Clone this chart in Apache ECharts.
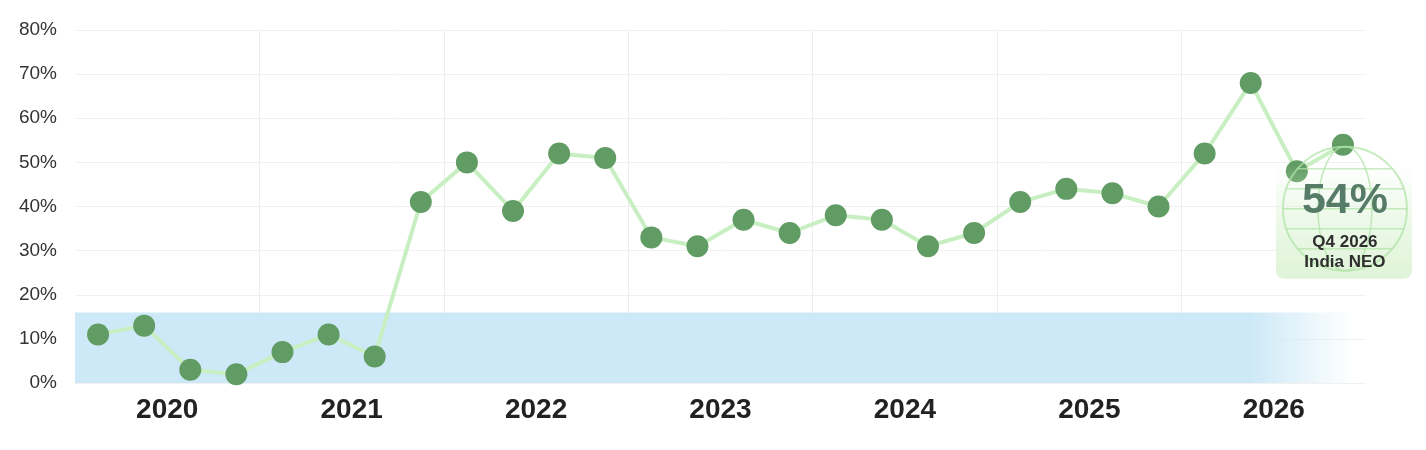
<!DOCTYPE html>
<html>
<head>
<meta charset="utf-8">
<style>
  html, body { margin: 0; padding: 0; background: #fff; }
  #chart { width: 1426px; height: 450px; }
</style>
<script src="https://cdn.jsdelivr.net/npm/echarts@6/dist/echarts.min.js"></script>
</head>
<body>
<div id="chart"></div>
<script>
const years = ['2020', '2021', '2022', '2023', '2024', '2025', '2026'];
const quarters = years.flatMap((y) => ['Q1', 'Q2', 'Q3', 'Q4'].map((q) => `${q} ${y}`));
const neoValues = [
  11, 13, 3, 2,
  7, 11, 6, 41,
  50, 39, 52, 51,
  33, 31, 37, 34,
  38, 37, 31, 34,
  41, 44, 43, 40,
  52, 68, 48, 54
];
const bandRange = [0, 16];
const calloutLabel = ['Q4 2026', 'India NEO'];

const FONT = '"Liberation Sans", Arial, sans-serif';
const GLOBE = 'rgba(178, 228, 168, 0.75)';

const chart = echarts.init(document.getElementById('chart'));

chart.setOption({
  animation: false,
  grid: { left: 75, right: 60, top: 30, bottom: 67 },
  xAxis: [
    {
      type: 'category',
      data: quarters,
      boundaryGap: true,
      show: false
    },
    {
      type: 'category',
      data: years,
      position: 'bottom',
      boundaryGap: true,
      axisLine: { show: false },
      axisTick: { show: false },
      axisLabel: {
        margin: 13,
        fontSize: 28,
        fontWeight: 'bold',
        color: '#222',
        fontFamily: FONT
      },
      splitLine: {
        show: true,
        showMinLine: false,
        showMaxLine: false,
        lineStyle: { color: '#eeeeee', width: 1 }
      }
    }
  ],
  yAxis: {
    type: 'value',
    min: 0,
    max: 80,
    interval: 10,
    axisLine: { show: false },
    axisTick: { show: false },
    axisLabel: {
      formatter: '{value}%',
      margin: 18,
      fontSize: 19,
      color: '#333',
      fontFamily: FONT
    },
    splitLine: { lineStyle: { color: '#f1f1f1', width: 1 } }
  },
  series: [
    {
      type: 'line',
      xAxisIndex: 0,
      data: neoValues,
      symbol: 'circle',
      symbolSize: 22,
      itemStyle: { color: '#619c64' },
      lineStyle: { color: '#c8efc2', width: 4 },
      z: 3,
      markArea: {
        silent: true,
        label: { show: false },
        itemStyle: {
          color: {
            type: 'linear', x: 0, y: 0, x2: 1, y2: 0,
            colorStops: [
              { offset: 0, color: '#cde9f7' },
              { offset: 0.91, color: '#cde9f7' },
              { offset: 0.99, color: 'rgba(205,233,247,0)' },
              { offset: 1, color: 'rgba(205,233,247,0)' }
            ]
          }
        },
        data: [[{ yAxis: bandRange[0] }, { yAxis: bandRange[1] }]]
      }
    }
  ]
});

// callout sits relative to the last quarter's point
function drawCallout() {
  const last = neoValues.length - 1;
  const [px, py] = chart.convertToPixel({ seriesIndex: 0 }, [last, neoValues[last]]);
  const cx = px + 2;
  const cy = py + 64;
  const r = 62;

  const lats = [-40, -20, 0, 20, 40].map((dy) => {
    const half = Math.sqrt(r * r - dy * dy);
    return {
      type: 'line',
      shape: { x1: cx - half, y1: cy + dy, x2: cx + half, y2: cy + dy },
      style: { stroke: GLOBE, lineWidth: 1.6 },
      z: 20
    };
  });

  chart.setOption({
    graphic: [
      {
        type: 'rect',
        shape: { x: px - 67, y: py + 20, width: 136, height: 114, r: 8 },
        style: {
          fill: {
            type: 'linear', x: 0, y: 0, x2: 0, y2: 1,
            colorStops: [
              { offset: 0, color: 'rgba(226,245,220,0)' },
              { offset: 0.5, color: 'rgba(226,245,220,0.65)' },
              { offset: 1, color: 'rgba(222,244,215,1)' }
            ]
          }
        },
        z: 19
      },
      {
        type: 'circle',
        shape: { cx, cy, r },
        style: { fill: 'none', stroke: GLOBE, lineWidth: 2 },
        z: 20
      },
      {
        type: 'ellipse',
        shape: { cx, cy, rx: 27, ry: r },
        style: { fill: 'none', stroke: GLOBE, lineWidth: 1.6 },
        z: 20
      },
      ...lats,
      {
        type: 'text',
        x: cx,
        y: py + 56,
        style: {
          text: `${neoValues[last]}%`,
          fill: '#567b67',
          font: `bold 43px ${FONT}`,
          align: 'center',
          verticalAlign: 'middle'
        },
        z: 21
      },
      {
        type: 'text',
        x: cx,
        y: py + 108,
        style: {
          text: calloutLabel.join('\n'),
          fill: '#2e2e2e',
          font: `bold 17px ${FONT}`,
          lineHeight: 20,
          align: 'center',
          verticalAlign: 'middle'
        },
        z: 21
      }
    ]
  });
}

drawCallout();
window.addEventListener('resize', () => { chart.resize(); drawCallout(); });
</script>
</body>
</html>
